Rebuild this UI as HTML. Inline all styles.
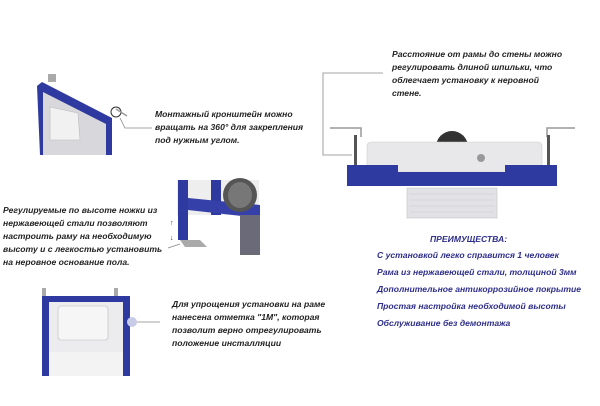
<!DOCTYPE html>
<html><head><meta charset="utf-8"><style>
body{margin:0;width:600px;height:406px;background:#fff;position:relative;overflow:hidden;font-family:"Liberation Sans",sans-serif}
.t{position:absolute;font-size:8.6px;font-weight:bold;font-style:italic;color:#222;line-height:13px;white-space:nowrap}
.b{color:#2e2e8c;line-height:17px}
.a{position:absolute}
</style></head><body>
<svg class="a" style="left:0;top:0" width="600" height="406">
<!-- top-left frame -->
<polygon points="50,76 56,82 56,82" fill="none"/>
<rect x="48" y="74" width="8" height="8" fill="#aaa"/>
<polygon points="37,86 42,82 112,118 112,155 40,155" fill="#2f3aa0"/>
<polygon points="43,92 106,124 106,155 43,155" fill="#d8d8dc"/>
<polygon points="50,107 78,113 80,140 50,140" fill="#f1f1f1" stroke="#bbb" stroke-width="0.6"/>
<circle cx="116" cy="112" r="5" fill="none" stroke="#333" stroke-width="1"/>
<line x1="116" y1="109" x2="127" y2="116" stroke="#999" stroke-width="1.5"/>
<polyline points="120,118 125,128 152,128" fill="none" stroke="#888" stroke-width="0.8"/>
<!-- mid image -->
<rect x="177" y="180" width="82" height="35" fill="#eee"/>
<rect x="178" y="180" width="10" height="60" fill="#2f3aa0"/>
<rect x="211" y="180" width="10" height="35" fill="#2f3aa0"/>
<polygon points="188,198 260,205 260,218 188,210" fill="#3541a8"/>
<ellipse cx="240" cy="195" rx="17" ry="17" fill="#555"/>
<ellipse cx="240" cy="195" rx="12" ry="13" fill="#777"/>
<rect x="240" y="215" width="20" height="40" fill="#6a6a78"/>
<polygon points="180,240 200,240 207,247 185,247" fill="#aaa"/>
<text x="170" y="225" font-size="7" fill="#333">↑</text>
<text x="170" y="240" font-size="7" fill="#333">↓</text>
<line x1="168" y1="248" x2="180" y2="244" stroke="#888" stroke-width="0.7"/>
<!-- right image -->
<polyline points="383,73 323,73 323,155 352,155" fill="none" stroke="#888" stroke-width="0.8"/>
<path d="M330,128 H361 V137" fill="none" stroke="#999" stroke-width="1.5"/>
<path d="M575,128 H547 V137" fill="none" stroke="#999" stroke-width="1.5"/>
<rect x="354" y="135" width="3" height="32" fill="#555"/>
<rect x="547" y="135" width="3" height="32" fill="#555"/>
<circle cx="452" cy="147" r="16" fill="#333"/>
<rect x="367" y="142" width="175" height="30" rx="4" fill="#e8e8ea" stroke="#ccc" stroke-width="0.6"/>
<circle cx="481" cy="158" r="4" fill="#999"/>
<path d="M347,165 H398 V172 H505 V165 H557 V186 H347Z" fill="#2f3aa0"/>
<rect x="407" y="188" width="90" height="30" fill="#e2e2e6" stroke="#bbb" stroke-width="0.5"/>
<g stroke="#c8c8cc" stroke-width="0.6"><line x1="410" y1="194" x2="494" y2="194"/><line x1="410" y1="200" x2="494" y2="200"/><line x1="410" y1="206" x2="494" y2="206"/><line x1="410" y1="212" x2="494" y2="212"/></g>
<!-- bottom-left -->
<rect x="42" y="288" width="4" height="10" fill="#aaa"/><rect x="114" y="288" width="4" height="10" fill="#aaa"/>
<rect x="42" y="296" width="88" height="80" fill="#2f3aa0"/>
<rect x="49" y="302" width="74" height="74" fill="#ececee"/>
<rect x="58" y="306" width="50" height="34" rx="3" fill="#f6f6f6" stroke="#bbb" stroke-width="0.6"/>
<rect x="49" y="352" width="74" height="24" fill="#f3f3f3"/>
<circle cx="132" cy="322" r="5" fill="#c8cbe5"/>
<line x1="137" y1="322" x2="160" y2="322" stroke="#888" stroke-width="0.7"/>
</svg>
<div class="t" style="left:155px;top:108px">Монтажный кронштейн можно<br>вращать на 360° для закрепления<br>под нужным углом.</div>
<div class="t" style="left:3px;top:204px">Регулируемые по высоте ножки из<br>нержавеющей стали позволяют<br>настроить раму на необходимую<br>высоту и с легкостью установить<br>на неровное основание пола.</div>
<div class="t" style="left:392px;top:48px">Расстояние от рамы до стены можно<br>регулировать длиной шпильки, что<br>облегчает установку к неровной<br>стене.</div>
<div class="t" style="left:172px;top:298px">Для упрощения установки на раме<br>нанесена отметка "1М", которая<br>позволит верно отрегулировать<br>положение инсталляции</div>
<div class="t b" style="left:430px;top:231px">ПРЕИМУЩЕСТВА:</div>
<div class="t b" style="left:377px;top:247px">С установкой легко справится 1 человек<br>Рама из нержавеющей стали, толщиной 3мм<br>Дополнительное антикоррозийное покрытие<br>Простая настройка необходимой высоты<br>Обслуживание без демонтажа</div>
</body></html>
